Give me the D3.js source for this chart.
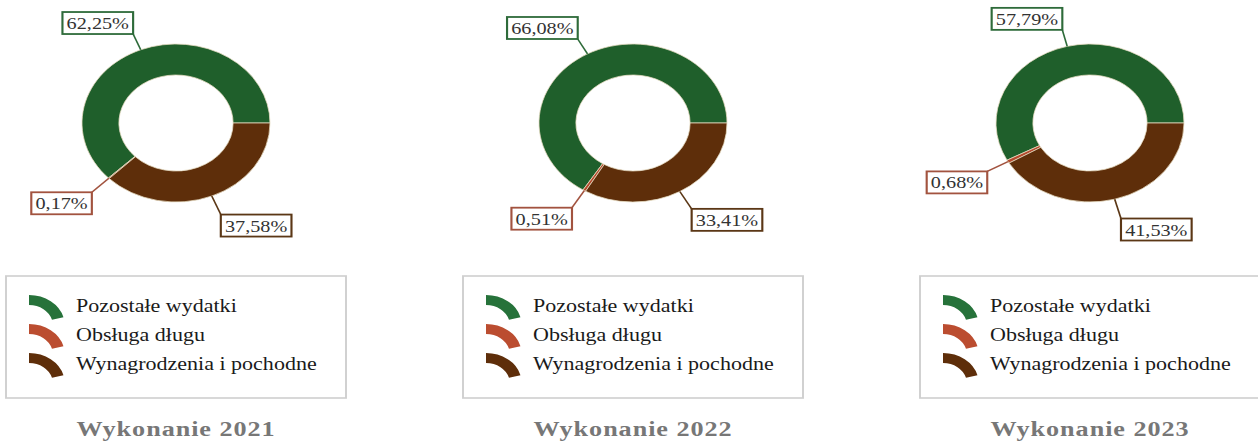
<!DOCTYPE html>
<html><head><meta charset="utf-8">
<script src="https://cdn.jsdelivr.net/npm/d3@7"></script>
<style>html,body{margin:0;padding:0;background:#fff;}svg{display:block;}</style>
</head><body>
<div id="chart"></div>
<script>
// ---- data ----
const categories = ["Pozostałe wydatki", "Obsługa długu", "Wynagrodzenia i pochodne"];
const years = ["Wykonanie 2021", "Wykonanie 2022", "Wykonanie 2023"];
const values2021 = [62.25, 0.17, 37.58];
const values2022 = [66.08, 0.51, 33.41];
const values2023 = [57.79, 0.68, 41.53];
const seriesValues = [values2021, values2022, values2023];

// ---- styles ----
const W = 1258, H = 441;
const sx = 94 / 79; // horizontal stretch of the original picture
const sliceColors = ["#1f5f2b", "#b4492c", "#5e2e0a"];
const legendColors = ["#26723a", "#bb4d30", "#5e2e0a"];
const labelColors = ["#2e6b3a", "#a2533f", "#5b3716"];
const panelCenters = [176, 633, 1090]; // screen px
const cy = 123, rOuter = 79, rInner = 48;
const serif = "'Liberation Serif', 'Times New Roman', serif";

const svg = d3.select("#chart").append("svg").attr("width", W).attr("height", H);
const root = svg.append("g").attr("transform", `scale(${sx},1)`);

const fmt = v => d3.format(".2f")(v).replace(".", ",") + "%";
const pie = d3.pie().sort(null).value(d => d).startAngle(Math.PI * 2.5).endAngle(Math.PI * 0.5);
const arc = d3.arc().innerRadius(rInner).outerRadius(rOuter);
const iconArc = d3.arc().innerRadius(20).outerRadius(30).startAngle(0).endAngle(75 * Math.PI / 180);

seriesValues.forEach((vals, i) => {
  const cxs = panelCenters[i];
  const cx = cxs / sx;
  const g = root.append("g");
  const dg = g.append("g").attr("transform", `translate(${cx},${cy})`);
  const arcs = pie(vals);
  dg.selectAll("path.slice").data(arcs).join("path")
    .attr("class", "slice")
    .attr("d", arc)
    .attr("fill", (d, j) => sliceColors[j])
    .attr("stroke", "#e6dcc2").attr("stroke-width", 0.7);

  // labels
  arcs.forEach((d, j) => {
    const a = (d.startAngle + d.endAngle) / 2;
    const ux = Math.sin(a), uy = -Math.cos(a);
    const x0 = ux * rOuter, y0 = uy * rOuter;
    const ext = uy < 0 ? 17 : 20;
    const x1 = x0 + ux * ext, y1 = y0 + uy * ext;
    dg.append("line").attr("x1", x0).attr("y1", y0).attr("x2", x1).attr("y2", y1)
      .attr("stroke", labelColors[j]).attr("stroke-width", 1.4);
    const lg = dg.append("g");
    const t = lg.append("text").text(fmt(vals[j]))
      .attr("font-family", serif)
      .attr("font-size", 17).attr("fill", "#333");
    const tw = t.node().getComputedTextLength();
    const bw = tw + 7, bh = 22;
    let bx, by;
    if (uy < 0) { bx = x1 - bw; by = y1 - bh; }          // above: end at bottom-right
    else if (ux >= 0) { bx = x1; by = y1; }              // lower right: end at top-left
    else { bx = x1 - bw; by = y1; }                      // lower left: end at top-right
    lg.insert("rect", "text").attr("x", bx).attr("y", by).attr("width", bw).attr("height", bh)
      .attr("fill", "#fff").attr("stroke", labelColors[j]).attr("stroke-width", 1.8);
    t.attr("x", bx + bw / 2).attr("y", by + bh / 2 + 6).attr("text-anchor", "middle");
  });

  // legend
  const boxX = (cxs - 170) / sx, boxW = 340 / sx;
  g.append("rect").attr("x", boxX).attr("y", 276).attr("width", boxW).attr("height", 122)
    .attr("fill", "#fff").attr("stroke", "#cfcfcf").attr("stroke-width", 1.6);
  const baselines = [312, 341, 370];
  categories.forEach((c, j) => {
    g.append("path").attr("d", iconArc)
      .attr("transform", `translate(${(cxs - 147) / sx},${baselines[j] + 13})`)
      .attr("fill", legendColors[j]);
    g.append("text").attr("x", (cxs - 100) / sx).attr("y", baselines[j])
      .attr("font-family", serif)
      .attr("font-size", 18.5).attr("fill", "#1a1a1a").text(c);
  });

  // title
  g.append("text").attr("x", cx).attr("y", 436).attr("text-anchor", "middle")
    .attr("font-family", serif)
    .attr("font-size", 22).attr("font-weight", "bold").attr("letter-spacing", 0.8)
    .attr("fill", "#777").text(years[i]);
});
</script>
</body></html>
